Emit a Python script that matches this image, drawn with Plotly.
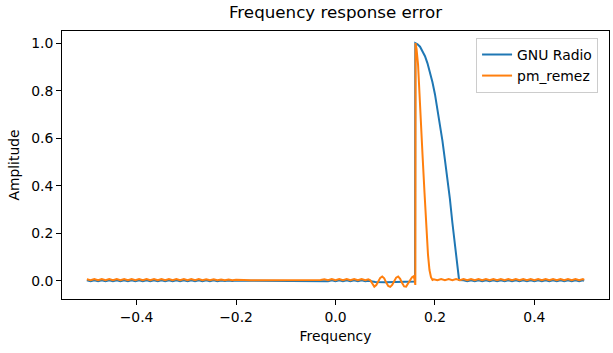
import plotly.graph_objects as go

# ---------------- data ----------------
# Left stop-band, shared frequency grid
f_left = [-0.5, -0.4925, -0.485, -0.4775, -0.47, -0.4625, -0.455, -0.4475,
          -0.44, -0.4325, -0.425, -0.4175, -0.41, -0.4025, -0.395, -0.3875,
          -0.38, -0.3725, -0.365, -0.3575, -0.35, -0.3425, -0.335, -0.3275,
          -0.32, -0.3125, -0.305, -0.2975, -0.29, -0.2825, -0.275, -0.2675,
          -0.26, -0.2525, -0.245, -0.2375, -0.23, -0.2225, -0.215, -0.2075,
          -0.2, -0.1925, -0.185]
pm_left = [0.006, 0.002, 0.007, 0.002, 0.007, 0.002, 0.007, 0.002,
           0.007, 0.002, 0.007, 0.002, 0.007, 0.002, 0.007, 0.002,
           0.007, 0.002, 0.007, 0.002, 0.007, 0.002, 0.007, 0.002,
           0.007, 0.002, 0.007, 0.002, 0.007, 0.002, 0.007, 0.002,
           0.006, 0.002, 0.006, 0.002, 0.005, 0.002, 0.005, 0.002,
           0.004, 0.002, 0.003]
gnu_left = [0.002, -0.002, 0.002, -0.002, 0.002, -0.002, 0.002, -0.002,
            0.002, -0.002, 0.002, -0.002, 0.002, -0.002, 0.002, -0.002,
            0.002, -0.002, 0.002, -0.002, 0.002, -0.002, 0.002, -0.002,
            0.002, -0.002, 0.002, -0.002, 0.002, -0.002, 0.002, -0.002,
            0.002, -0.002, 0.002, -0.002, 0.001, -0.001, 0.001, -0.001,
            0.001, -0.001, 0.0]

# Flat part of the stop-band
f_flat = [-0.17, -0.13, -0.09, -0.05, -0.03]
pm_flat = [0.002, 0.002, 0.002, 0.002, 0.003]
gnu_flat = [0.0, 0.0, 0.0, 0.0, 0.0]

# Ripple just below the pass-band
f_near = [-0.0225, -0.015, -0.0075, 0.0, 0.0075, 0.015, 0.0225, 0.03,
          0.0375, 0.045, 0.0525, 0.06, 0.066]
pm_near = [0.006, 0.002, 0.007, 0.002, 0.007, 0.002, 0.007, 0.002,
           0.007, 0.002, 0.007, 0.002, 0.006]
gnu_near = [0.001, -0.002, 0.002, -0.002, 0.002, -0.002, 0.002, -0.002,
            0.002, -0.002, 0.002, -0.002, 0.0]

# pm_remez around the band edge
f_pm_edge = [0.070, 0.074, 0.078, 0.082, 0.086, 0.090, 0.094, 0.098,
             0.102, 0.106, 0.110, 0.114, 0.118, 0.122, 0.126, 0.130,
             0.134, 0.138, 0.142, 0.146, 0.150, 0.154, 0.157, 0.159,
             0.1605, 0.161, 0.163, 0.166, 0.169, 0.172, 0.175, 0.179,
             0.182, 0.186, 0.189, 0.192, 0.195]
pm_edge = [0.002, -0.012, -0.025, -0.018, -0.002, 0.012, 0.018, 0.010,
           -0.008, -0.022, -0.026, -0.018, -0.002, 0.013, 0.018, 0.008,
           -0.010, -0.024, -0.025, -0.014, 0.002, 0.015, 0.019, 0.005,
           -0.018, 1.0, 0.975, 0.91, 0.80, 0.67, 0.53, 0.37,
           0.24, 0.11, 0.045, 0.015, 0.003]

# GNU Radio around the band edge
f_gnu_edge = [0.070, 0.080, 0.100, 0.120, 0.140, 0.155, 0.160, 0.1605,
              0.165, 0.170, 0.175, 0.180, 0.185, 0.190, 0.195, 0.200,
              0.205, 0.210, 0.215, 0.220, 0.225, 0.230, 0.235, 0.240,
              0.245, 0.2485]
gnu_edge = [-0.001, -0.005, -0.006, -0.005, -0.004, -0.003, -0.003, 1.0,
            0.995, 0.985, 0.968, 0.945, 0.915, 0.88, 0.835, 0.785,
            0.725, 0.66, 0.59, 0.51, 0.43, 0.345, 0.245, 0.15,
            0.05, 0.003]

# Right stop-band
f_right = [0.1975, 0.205, 0.2125, 0.22, 0.2275, 0.235, 0.2425, 0.25,
           0.2575, 0.265, 0.2725, 0.28, 0.2875, 0.295, 0.3025, 0.31,
           0.3175, 0.325, 0.3325, 0.34, 0.3475, 0.355, 0.3625, 0.37,
           0.3775, 0.385, 0.3925, 0.4, 0.4075, 0.415, 0.4225, 0.43,
           0.4375, 0.445, 0.4525, 0.46, 0.4675, 0.475, 0.4825, 0.49,
           0.4975, 0.5]
pm_right = [0.006, 0.002, 0.007, 0.002, 0.007, 0.002, 0.007, 0.002,
            0.007, 0.002, 0.007, 0.002, 0.007, 0.002, 0.007, 0.002,
            0.007, 0.002, 0.007, 0.002, 0.007, 0.002, 0.007, 0.002,
            0.007, 0.002, 0.007, 0.002, 0.007, 0.002, 0.007, 0.002,
            0.007, 0.002, 0.007, 0.002, 0.007, 0.002, 0.007, 0.002,
            0.007, 0.004]
gnu_right = [0.002, -0.002, 0.002, -0.002, 0.002, -0.002, 0.002, -0.002,
             0.002, -0.002, 0.002, -0.002, 0.002, -0.002, 0.002, -0.002,
             0.002, -0.002, 0.002, -0.002, 0.002, -0.002, 0.002, -0.002,
             0.002, -0.002, 0.002, -0.002, 0.002, -0.002, 0.002, -0.002,
             0.002, 0.0]

x_ticks = [-0.4, -0.2, 0.0, 0.2, 0.4]
y_ticks = [0.0, 0.2, 0.4, 0.6, 0.8, 1.0]

series_names = ["GNU Radio", "pm_remez"]
series_colors = ["#1f77b4", "#ff7f0e"]

# ---------------- assemble ----------------
gnu_f = f_left + f_flat + f_near + f_gnu_edge + f_right[8:]
gnu_a = gnu_left + gnu_flat + gnu_near + gnu_edge + gnu_right
pm_f = f_left + f_flat + f_near + f_pm_edge + f_right
pm_a = pm_left + pm_flat + pm_near + pm_edge + pm_right

fig = go.Figure()
fig.add_trace(go.Scatter(x=gnu_f, y=gnu_a, mode="lines", name=series_names[0],
                         line=dict(color=series_colors[0], width=2)))
fig.add_trace(go.Scatter(x=pm_f, y=pm_a, mode="lines", name=series_names[1],
                         line=dict(color=series_colors[1], width=2)))

axis_common = dict(showline=True, linecolor="black", linewidth=1, mirror=True,
                   ticks="outside", ticklen=5, tickwidth=1, tickcolor="black",
                   showgrid=False, zeroline=False, tickformat=".1f",
                   tickfont=dict(family="DejaVu Sans", size=13.9, color="black"))

fig.update_layout(
    width=613, height=353,
    margin=dict(l=62, r=4, t=31, b=54),
    paper_bgcolor="white", plot_bgcolor="white",
    font=dict(family="DejaVu Sans", size=13.9, color="black"),
    title=dict(text="Frequency response error", x=335.5 / 613, xanchor="center",
               xref="container",
               y=1 - 12.5 / 353, yanchor="middle", yref="container",
               font=dict(family="DejaVu Sans", size=16.7, color="black")),
    xaxis=dict(range=[-0.55, 0.55], tickvals=x_ticks,
               title=dict(text="Frequency", standoff=7,
                          font=dict(family="DejaVu Sans", size=13.9, color="black")),
               **axis_common),
    yaxis=dict(range=[-0.077, 1.051], tickvals=y_ticks,
               title=dict(text="Amplitude", standoff=8,
                          font=dict(family="DejaVu Sans", size=13.9, color="black")),
               **axis_common),
    legend=dict(x=0.980, y=0.974, xanchor="right", yanchor="top",
                bgcolor="rgba(255,255,255,0.8)", bordercolor="#cccccc",
                borderwidth=1, font=dict(family="DejaVu Sans", size=13.9),
                itemwidth=30, tracegroupgap=0),
    showlegend=True,
)

fig.write_html("out.html")
